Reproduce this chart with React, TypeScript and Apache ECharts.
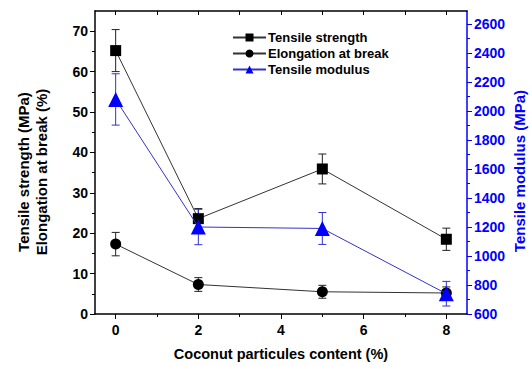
import React, { useEffect, useRef } from "react";
import * as echarts from "echarts";

const content = [0, 2, 5, 8];
const tensileStrength = [65.2, 23.6, 35.9, 18.5];
const tensileStrengthErr = [5.2, 2.5, 3.7, 2.75];
const elongation = [17.3, 7.3, 5.5, 5.2];
const elongationErr = [2.9, 1.7, 1.6, 1.5];
const tensileModulus = [2080, 1200, 1190, 740];
const tensileModulusErr = [177, 122, 110, 85];

const xMajor = [0, 2, 4, 6, 8];
const xMinor = [1, 3, 5, 7];
const xTop = [0, 1, 2, 3, 4, 5, 6, 7, 8];
const leftMajor = [0, 10, 20, 30, 40, 50, 60, 70];
const leftMinor = [5, 15, 25, 35, 45, 55, 65];
const rightMajor = [600, 800, 1000, 1200, 1400, 1600, 1800, 2000, 2200, 2400, 2600];
const rightMinor = [700, 900, 1100, 1300, 1500, 1700, 1900, 2100, 2300, 2500];

const FONT = "Liberation Sans, Arial, sans-serif";
const BLUE = "#0000ff";

function errData(vals: number[], errs: number[]) {
  return content.map((x, i) => [x, vals[i] - errs[i], vals[i] + errs[i]]);
}

function errSeries(vals: number[], errs: number[], yAxisIndex: number, color: string) {
  return {
    type: "custom",
    xAxisIndex: 0,
    yAxisIndex,
    silent: true,
    z: 1,
    data: errData(vals, errs),
    renderItem: (params: any, api: any) => {
      const x = api.value(0);
      const lo = api.coord([x, api.value(1)]);
      const hi = api.coord([x, api.value(2)]);
      const w = 4;
      const style = { stroke: color, lineWidth: 1 };
      return {
        type: "group",
        children: [
          { type: "line", shape: { x1: lo[0], y1: lo[1], x2: hi[0], y2: hi[1] }, style },
          { type: "line", shape: { x1: lo[0] - w, y1: lo[1], x2: lo[0] + w, y2: lo[1] }, style },
          { type: "line", shape: { x1: hi[0] - w, y1: hi[1], x2: hi[0] + w, y2: hi[1] }, style },
        ],
      };
    },
  };
}

export default function App() {
  const ref = useRef<HTMLDivElement>(null);
  useEffect(() => {
    if (!ref.current) return;
    const chart = echarts.init(ref.current, undefined, { renderer: "svg" });
    const labelStyle = { fontFamily: FONT, fontWeight: "bold" as const, fontSize: 14, color: "#000" };
    const xBase = { type: "value", min: -0.5, max: 8.5, splitLine: { show: false } };
    const yLeftBase = { type: "value", min: 0, max: 75, position: "left", splitLine: { show: false } };
    const yRightBase = { type: "value", min: 600, max: 2690, position: "right", splitLine: { show: false } };
    const titleStyle = { fontFamily: FONT, fontWeight: "bold", fontSize: 15, textAlign: "center", textVerticalAlign: "middle" };
    chart.setOption({
      animation: false,
      backgroundColor: "#fff",
      grid: { left: 95, right: 65, top: 11, bottom: 52 },
      legend: {
        orient: "vertical",
        left: 227,
        top: 26,
        itemWidth: 33,
        itemHeight: 10,
        itemGap: 3,
        textStyle: { fontFamily: FONT, fontWeight: "bold", fontSize: 13, color: "#000", padding: [0, 0, 0, -3] },
        data: ["Tensile strength", "Elongation at break", "Tensile modulus"],
      },
      xAxis: [
        {
          ...xBase,
          position: "bottom",
          axisLine: { show: true, onZero: false, lineStyle: { color: "#000", width: 1.5 } },
          axisTick: { show: true, customValues: xMajor, length: 5, inside: false, lineStyle: { color: "#000", width: 1 } },
          axisLabel: { show: true, customValues: xMajor, margin: 9, ...labelStyle },
        },
        {
          ...xBase,
          position: "bottom",
          axisLine: { show: false, onZero: false },
          axisTick: { show: true, customValues: xMinor, length: 3, lineStyle: { color: "#000", width: 1 } },
          axisLabel: { show: false },
        },
        {
          ...xBase,
          position: "top",
          axisLine: { show: true, onZero: false, lineStyle: { color: "#000", width: 1.5 } },
          axisTick: { show: true, customValues: xTop, length: 4, inside: true, lineStyle: { color: "#000", width: 1 } },
          axisLabel: { show: false },
        },
      ],
      yAxis: [
        {
          ...yLeftBase,
          axisLine: { show: true, onZero: false, lineStyle: { color: "#000", width: 1.5 } },
          axisTick: { show: true, customValues: leftMajor, length: 5, lineStyle: { color: "#000", width: 1 } },
          axisLabel: { show: true, customValues: leftMajor, margin: 7, ...labelStyle },
        },
        {
          ...yLeftBase,
          axisLine: { show: false, onZero: false },
          axisTick: { show: true, customValues: leftMinor, length: 3, lineStyle: { color: "#000", width: 1 } },
          axisLabel: { show: false },
        },
        {
          ...yRightBase,
          axisLine: { show: true, onZero: false, lineStyle: { color: BLUE, width: 1.5 } },
          axisTick: { show: true, customValues: rightMajor, length: 5, lineStyle: { color: BLUE, width: 1 } },
          axisLabel: { show: true, customValues: rightMajor, margin: 7, ...labelStyle, color: BLUE, formatter: (v: number) => String(v) },
        },
        {
          ...yRightBase,
          axisLine: { show: false, onZero: false },
          axisTick: { show: true, customValues: rightMinor, length: 3, lineStyle: { color: BLUE, width: 1 } },
          axisLabel: { show: false },
        },
      ],
      graphic: [
        {
          type: "text",
          x: 23,
          y: 172,
          rotation: Math.PI / 2,
          style: { ...titleStyle, text: "Tensile strength (MPa)", fill: "#000" },
        },
        {
          type: "text",
          x: 41,
          y: 172,
          rotation: Math.PI / 2,
          style: { ...titleStyle, text: "Elongation at break (%)", fill: "#000" },
        },
        {
          type: "text",
          x: 519,
          y: 171,
          rotation: Math.PI / 2,
          style: { ...titleStyle, text: "Tensile modulus (MPa)", fill: BLUE },
        },
        {
          type: "text",
          x: 281,
          y: 354,
          style: { ...titleStyle, fontSize: 14.5, text: "Coconut particules content (%)", fill: "#000" },
        },
      ],
      series: [
        errSeries(tensileStrength, tensileStrengthErr, 0, "#222"),
        errSeries(elongation, elongationErr, 0, "#222"),
        errSeries(tensileModulus, tensileModulusErr, 2, "#3333cc"),
        {
          name: "Tensile strength",
          type: "line",
          xAxisIndex: 0,
          yAxisIndex: 0,
          data: content.map((x, i) => [x, tensileStrength[i]]),
          symbol: "rect",
          symbolSize: 11,
          itemStyle: { color: "#000" },
          lineStyle: { color: "#333", width: 1 },
          z: 3,
        },
        {
          name: "Elongation at break",
          type: "line",
          xAxisIndex: 0,
          yAxisIndex: 0,
          data: content.map((x, i) => [x, elongation[i]]),
          symbol: "circle",
          symbolSize: 11,
          itemStyle: { color: "#000" },
          lineStyle: { color: "#333", width: 1 },
          z: 3,
        },
        {
          name: "Tensile modulus",
          type: "line",
          xAxisIndex: 0,
          yAxisIndex: 2,
          data: content.map((x, i) => [x, tensileModulus[i]]),
          symbol: "triangle",
          symbolSize: 15,
          itemStyle: { color: BLUE },
          lineStyle: { color: "#3333cc", width: 1 },
          z: 4,
        },
      ],
    });
    return () => chart.dispose();
  }, []);
  return <div ref={ref} style={{ position: "fixed", left: 0, top: 0, width: 532, height: 366 }} />;
}
